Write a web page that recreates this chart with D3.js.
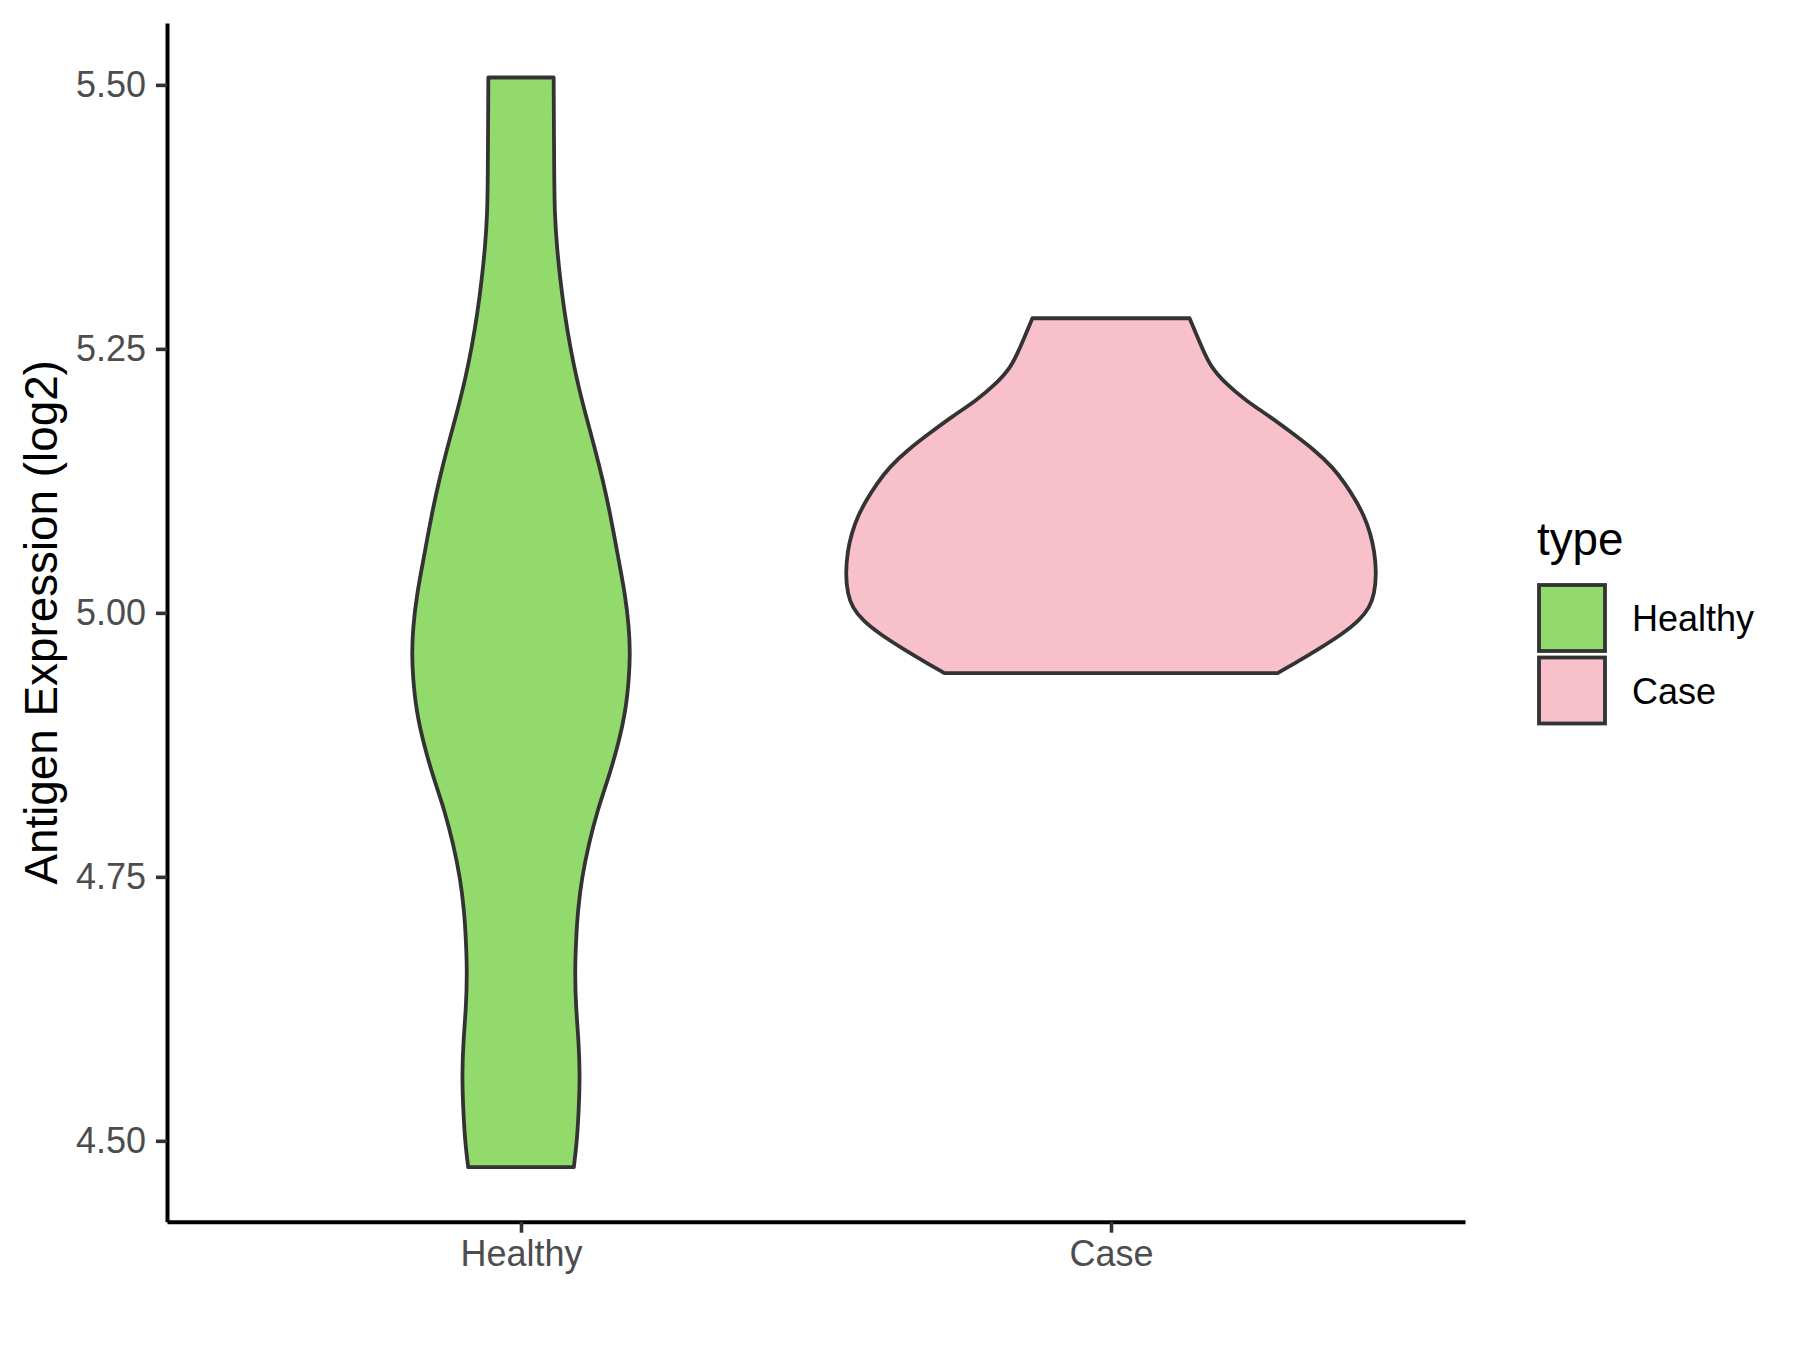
<!DOCTYPE html>
<html>
<head>
<meta charset="utf-8">
<script src="https://cdn.jsdelivr.net/npm/d3@7"></script>
<style>
  html, body { margin: 0; padding: 0; background: #fff; }
  svg { display: block; font-family: "Liberation Sans", Arial, sans-serif; }
</style>
</head>
<body>
<svg id="chart" width="1800" height="1350"></svg>
<script>
// ---------------- data ----------------
const categories = ["Healthy", "Case"];
const fills = ["#92DA6B", "#F7C0CB"];
const yTicks = [4.50, 4.75, 5.00, 5.25, 5.50];

// violin profile (expression value -> relative density)
const healthyValues = [5.507, 5.410, 5.378, 5.347, 5.315, 5.284, 5.252, 5.220, 5.189, 5.157, 5.126, 5.094, 5.051, 5.018, 4.986, 4.961, 4.939, 4.908, 4.876, 4.844, 4.813, 4.781, 4.749, 4.718, 4.689, 4.658, 4.626, 4.595, 4.563, 4.531, 4.500, 4.475];
const healthyDensity = [0.123, 0.125, 0.127, 0.135, 0.148, 0.164, 0.185, 0.211, 0.242, 0.277, 0.308, 0.336, 0.367, 0.392, 0.407, 0.411, 0.407, 0.395, 0.367, 0.330, 0.288, 0.255, 0.229, 0.214, 0.207, 0.203, 0.207, 0.217, 0.222, 0.218, 0.211, 0.199];

const caseValues = [5.279, 5.249, 5.233, 5.217, 5.201, 5.186, 5.170, 5.154, 5.138, 5.122, 5.107, 5.091, 5.075, 5.059, 5.037, 5.018, 5.005, 4.993, 4.980, 4.964, 4.955, 4.943];
const caseDensity = [0.296, 0.346, 0.376, 0.432, 0.508, 0.598, 0.684, 0.767, 0.835, 0.883, 0.921, 0.955, 0.977, 0.992, 1.000, 0.992, 0.974, 0.936, 0.872, 0.771, 0.711, 0.628];

const groups = [
  { name: categories[0], fill: fills[0], values: healthyValues, density: healthyDensity },
  { name: categories[1], fill: fills[1], values: caseValues, density: caseDensity }
];

// ---------------- layout ----------------
const svg = d3.select("#chart");
const panel = { left: 167, right: 1465, top: 23, bottom: 1221.7 };
const outline = "#333333";

const allVals = healthyValues.concat(caseValues);
const [vMin, vMax] = d3.extent(allVals);
const pad = (vMax - vMin) * 0.05;

const y = d3.scaleLinear().domain([vMin - pad, vMax + pad]).range([panel.bottom, panel.top]);
const x = d3.scalePoint().domain(categories).range([panel.left, panel.right]).padding(0.6);
const maxDens = d3.max(groups, g => d3.max(g.density));
const w = d3.scaleLinear().domain([0, maxDens]).range([0, 0.45 * x.step()]);

// ---------------- violins ----------------
groups.forEach(g => {
  const pts = g.values.map((v, i) => ({ v, d: g.density[i] }));
  const cx = x(g.name);
  const area = d3.area()
    .y(p => y(p.v))
    .x0(p => cx - w(p.d))
    .x1(p => cx + w(p.d))
    .curve(d3.curveBasis);
  svg.append("path")
    .attr("d", area(pts))
    .attr("fill", g.fill)
    .attr("stroke", outline)
    .attr("stroke-width", 3.8)
    .attr("stroke-linejoin", "round");
});

// ---------------- axes ----------------
const yAxis = d3.axisLeft(y).tickValues(yTicks).tickFormat(d3.format(".2f"))
  .tickSize(11).tickSizeOuter(0).tickPadding(10);
const gy = svg.append("g").attr("transform", `translate(${panel.left},0)`).call(yAxis);
gy.select(".domain").attr("stroke", "#000").attr("stroke-width", 4);
gy.selectAll(".tick line").attr("stroke", outline).attr("stroke-width", 3.6);
gy.selectAll(".tick text").attr("fill", "#4D4D4D").attr("font-size", 36)
  .attr("font-family", "Liberation Sans, Arial, sans-serif");

const xAxis = d3.axisBottom(x).tickSize(11).tickSizeOuter(0).tickPadding(8);
const gx = svg.append("g").attr("transform", `translate(0,${panel.bottom})`).call(xAxis);
gx.select(".domain").attr("stroke", "#000").attr("stroke-width", 4);
gx.selectAll(".tick line").attr("stroke", outline).attr("stroke-width", 3.6);
gx.selectAll(".tick text").attr("fill", "#4D4D4D").attr("font-size", 36)
  .attr("font-family", "Liberation Sans, Arial, sans-serif");

// y axis title
svg.append("text")
  .attr("transform", `translate(56.5,${(panel.top + panel.bottom) / 2}) rotate(-90)`)
  .attr("text-anchor", "middle")
  .attr("font-size", 45.8)
  .attr("fill", "#000")
  .text("Antigen Expression (log2)");

// ---------------- legend ----------------
const lg = svg.append("g").attr("transform", "translate(1536,0)");
lg.append("text").attr("x", 1).attr("y", 555).attr("font-size", 45.8).attr("fill", "#000").text("type");
groups.forEach((g, i) => {
  const top = 582 + i * 72.5;
  lg.append("rect")
    .attr("x", 3).attr("y", top + 3)
    .attr("width", 66).attr("height", 66)
    .attr("fill", g.fill).attr("stroke", outline).attr("stroke-width", 3.8);
  lg.append("text")
    .attr("x", 96).attr("y", top + 36 + 13)
    .attr("font-size", 36).attr("fill", "#000")
    .text(g.name);
});
</script>
</body>
</html>
